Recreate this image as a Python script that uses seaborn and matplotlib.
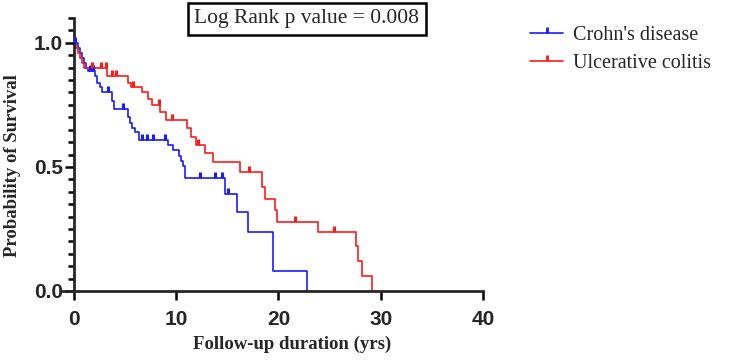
import numpy as np
import pandas as pd
import matplotlib
matplotlib.use("Agg")
import matplotlib.pyplot as plt
from matplotlib.lines import Line2D
from matplotlib.markers import MarkerStyle
from matplotlib.path import Path
from matplotlib.ticker import MultipleLocator
import seaborn as sns

# Kaplan-Meier steps: time (yrs) and survival after each drop
cd_times = [0, 0.4, 0.6, 0.8, 1.0, 1.2, 1.4, 2.1, 2.3, 2.5, 2.7, 3.7, 3.9, 5.3, 5.5, 5.7, 6.0, 6.4,
            9.2, 9.7, 10.3, 10.5, 10.7, 10.9, 14.8, 15.9, 17.0, 19.5, 22.8]
cd_surv = [1.0, 0.98, 0.96, 0.94, 0.92, 0.90, 0.885, 0.865, 0.84, 0.82, 0.80, 0.765, 0.735, 0.70,
           0.675, 0.655, 0.64, 0.61, 0.587, 0.57, 0.545, 0.525, 0.505, 0.455, 0.39, 0.317, 0.237,
           0.08, 0.0]
cd_censor = [0.1, 1.6, 1.9, 3.3, 4.8, 6.7, 7.1, 7.7, 8.9, 12.3, 13.8, 14.5, 15.1]

uc_times = [0, 0.2, 0.4, 0.6, 0.8, 1.0, 3.2, 5.3, 5.6, 6.7, 7.2, 7.6, 8.4, 9.0, 11.1, 11.4, 11.9,
            12.8, 13.6, 16.2, 18.4, 18.7, 19.7, 19.9, 23.9, 27.6, 27.8, 28.2, 29.1]
uc_surv = [1.0, 0.98, 0.96, 0.94, 0.92, 0.90, 0.865, 0.84, 0.82, 0.80, 0.775, 0.75, 0.72, 0.69,
           0.655, 0.62, 0.59, 0.555, 0.52, 0.48, 0.42, 0.37, 0.325, 0.28, 0.237, 0.18, 0.12, 0.06,
           0.0]
uc_censor = [1.8, 2.6, 3.1, 3.7, 4.1, 5.8, 8.3, 9.6, 12.1, 17.1, 21.6, 25.4]

groups = ["Crohn's disease", "Ulcerative colitis"]
colors = {"Crohn's disease": "#1a1aff", "Ulcerative colitis": "#ff1a1a"}

curves = pd.concat([
    pd.DataFrame({"time": cd_times, "surv": cd_surv, "group": groups[0]}),
    pd.DataFrame({"time": uc_times, "surv": uc_surv, "group": groups[1]}),
])


def censor_points(times, surv, censor):
    idx = np.searchsorted(times, censor, side="right") - 1
    return np.asarray(surv)[idx]


sns.set_style("ticks")
plt.rcParams["font.family"] = ["Liberation Serif", "DejaVu Serif"]

fig = plt.figure(figsize=(7.44, 3.62), dpi=100)
ax = fig.add_axes([63 / 744, 1 - 291 / 362, 420 / 744, 273 / 362])

sns.lineplot(data=curves, x="time", y="surv", hue="group", palette=colors,
             drawstyle="steps-post", estimator=None, sort=False, legend=False,
             linewidth=1.2, ax=ax)

tick = MarkerStyle(Path([(0, 0), (0, 1)]))
for name, t, s, c in [(groups[0], cd_times, cd_surv, cd_censor),
                      (groups[1], uc_times, uc_surv, uc_censor)]:
    sns.scatterplot(x=c, y=censor_points(t, s, c), marker=tick, s=75,
                    color=colors[name], edgecolor=colors[name], linewidth=2.2,
                    ax=ax, zorder=3, clip_on=False)

ax.set_xlim(-1.07, 40)
ax.set_ylim(0, 1.1)
ax.set_xticks([0, 10, 20, 30, 40])
ax.set_yticks([0, 0.5, 1.0])
ax.set_yticklabels(["0.0", "0.5", "1.0"])
ax.yaxis.set_minor_locator(MultipleLocator(0.05))

ax.spines["left"].set_position(("data", 0))
for side in ["top", "right"]:
    ax.spines[side].set_visible(False)
for side in ["left", "bottom"]:
    ax.spines[side].set_linewidth(2)

ax.tick_params(axis="both", which="major", length=6.5, width=1.8, color="black")
ax.tick_params(axis="y", which="minor", length=4.5, width=1.8, color="black")
ax.tick_params(axis="x", pad=7.5)
ax.tick_params(axis="y", pad=1.5)
for lab in ax.get_xticklabels() + ax.get_yticklabels():
    lab.set_fontfamily("Liberation Sans")
    lab.set_fontweight("bold")
    lab.set_fontsize(15)

ax.set_xlabel("Follow-up duration (yrs)", fontsize=13.5, fontweight="bold")
ax.set_ylabel("Probability of Survival", fontsize=13.5, fontweight="bold")
ax.xaxis.set_label_coords((292 - 63) / 420, (291 - 336) / 273)
ax.yaxis.set_label_coords((21 - 63) / 420, (291 - 166) / 273)

handles = [Line2D([0], [0], color=colors[g], lw=1.2, marker=tick, markersize=8.6,
                  markeredgewidth=2) for g in groups]
ax.legend(handles, groups, loc="upper left", bbox_to_anchor=(530 / 744, 1 - 26 / 362),
          bbox_transform=fig.transFigure, frameon=False, fontsize=14.5,
          handlelength=1.65, handletextpad=0.5, labelspacing=0.45, borderpad=0,
          borderaxespad=0)

fig.text(307 / 744, 1 - 19 / 362, "Log Rank p value = 0.008", ha="center", va="center",
         fontsize=15.5,
         bbox=dict(boxstyle="square,pad=0.32", fc="white", ec="black", lw=1.8))

fig.savefig("out.png", dpi=100)
